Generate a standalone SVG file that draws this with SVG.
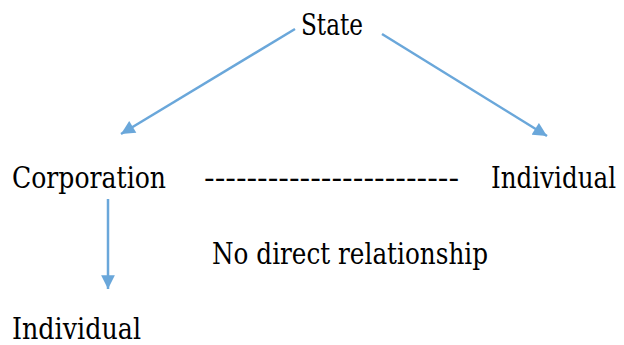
<svg xmlns="http://www.w3.org/2000/svg" width="624" height="345" viewBox="0 0 624 345">
<style>
text{font-family:'DejaVu Serif',serif;font-size:29px;fill:#000}
.c{stroke:#6AA7DA;stroke-width:2.5;fill:none}
</style>
<defs>
<marker id="ah" viewBox="0 0 10 10" refX="10" refY="5" markerWidth="6" markerHeight="5.5" markerUnits="strokeWidth" orient="auto">
<path d="M0,0 L10,5 L0,10 Z" fill="#6AA7DA"/>
</marker>
</defs>
<rect width="624" height="345" fill="#fff"/>
<g id="connectors">
<line class="c" x1="295" y1="29" x2="121" y2="134" marker-end="url(#ah)"/>
<line class="c" x1="382" y1="34" x2="547" y2="136" marker-end="url(#ah)"/>
<line class="c" x1="108" y1="199" x2="108" y2="289" marker-end="url(#ah)"/>
</g>
<g id="state"><text x="301" y="35" textLength="62" lengthAdjust="spacingAndGlyphs">State</text></g>
<g id="corporation"><text x="12" y="188" textLength="154" lengthAdjust="spacingAndGlyphs">Corporation</text></g>
<g id="dashes"><text x="204" y="188" textLength="255" lengthAdjust="spacingAndGlyphs">------------------------</text></g>
<g id="individual-right"><text x="491" y="188" font-size="25" textLength="125" lengthAdjust="spacingAndGlyphs">Individual</text></g>
<g id="no-relationship"><text x="212" y="264" textLength="276" lengthAdjust="spacingAndGlyphs">No direct relationship</text></g>
<g id="individual-bottom"><text x="12" y="339" textLength="129" lengthAdjust="spacingAndGlyphs">Individual</text></g>
</svg>
